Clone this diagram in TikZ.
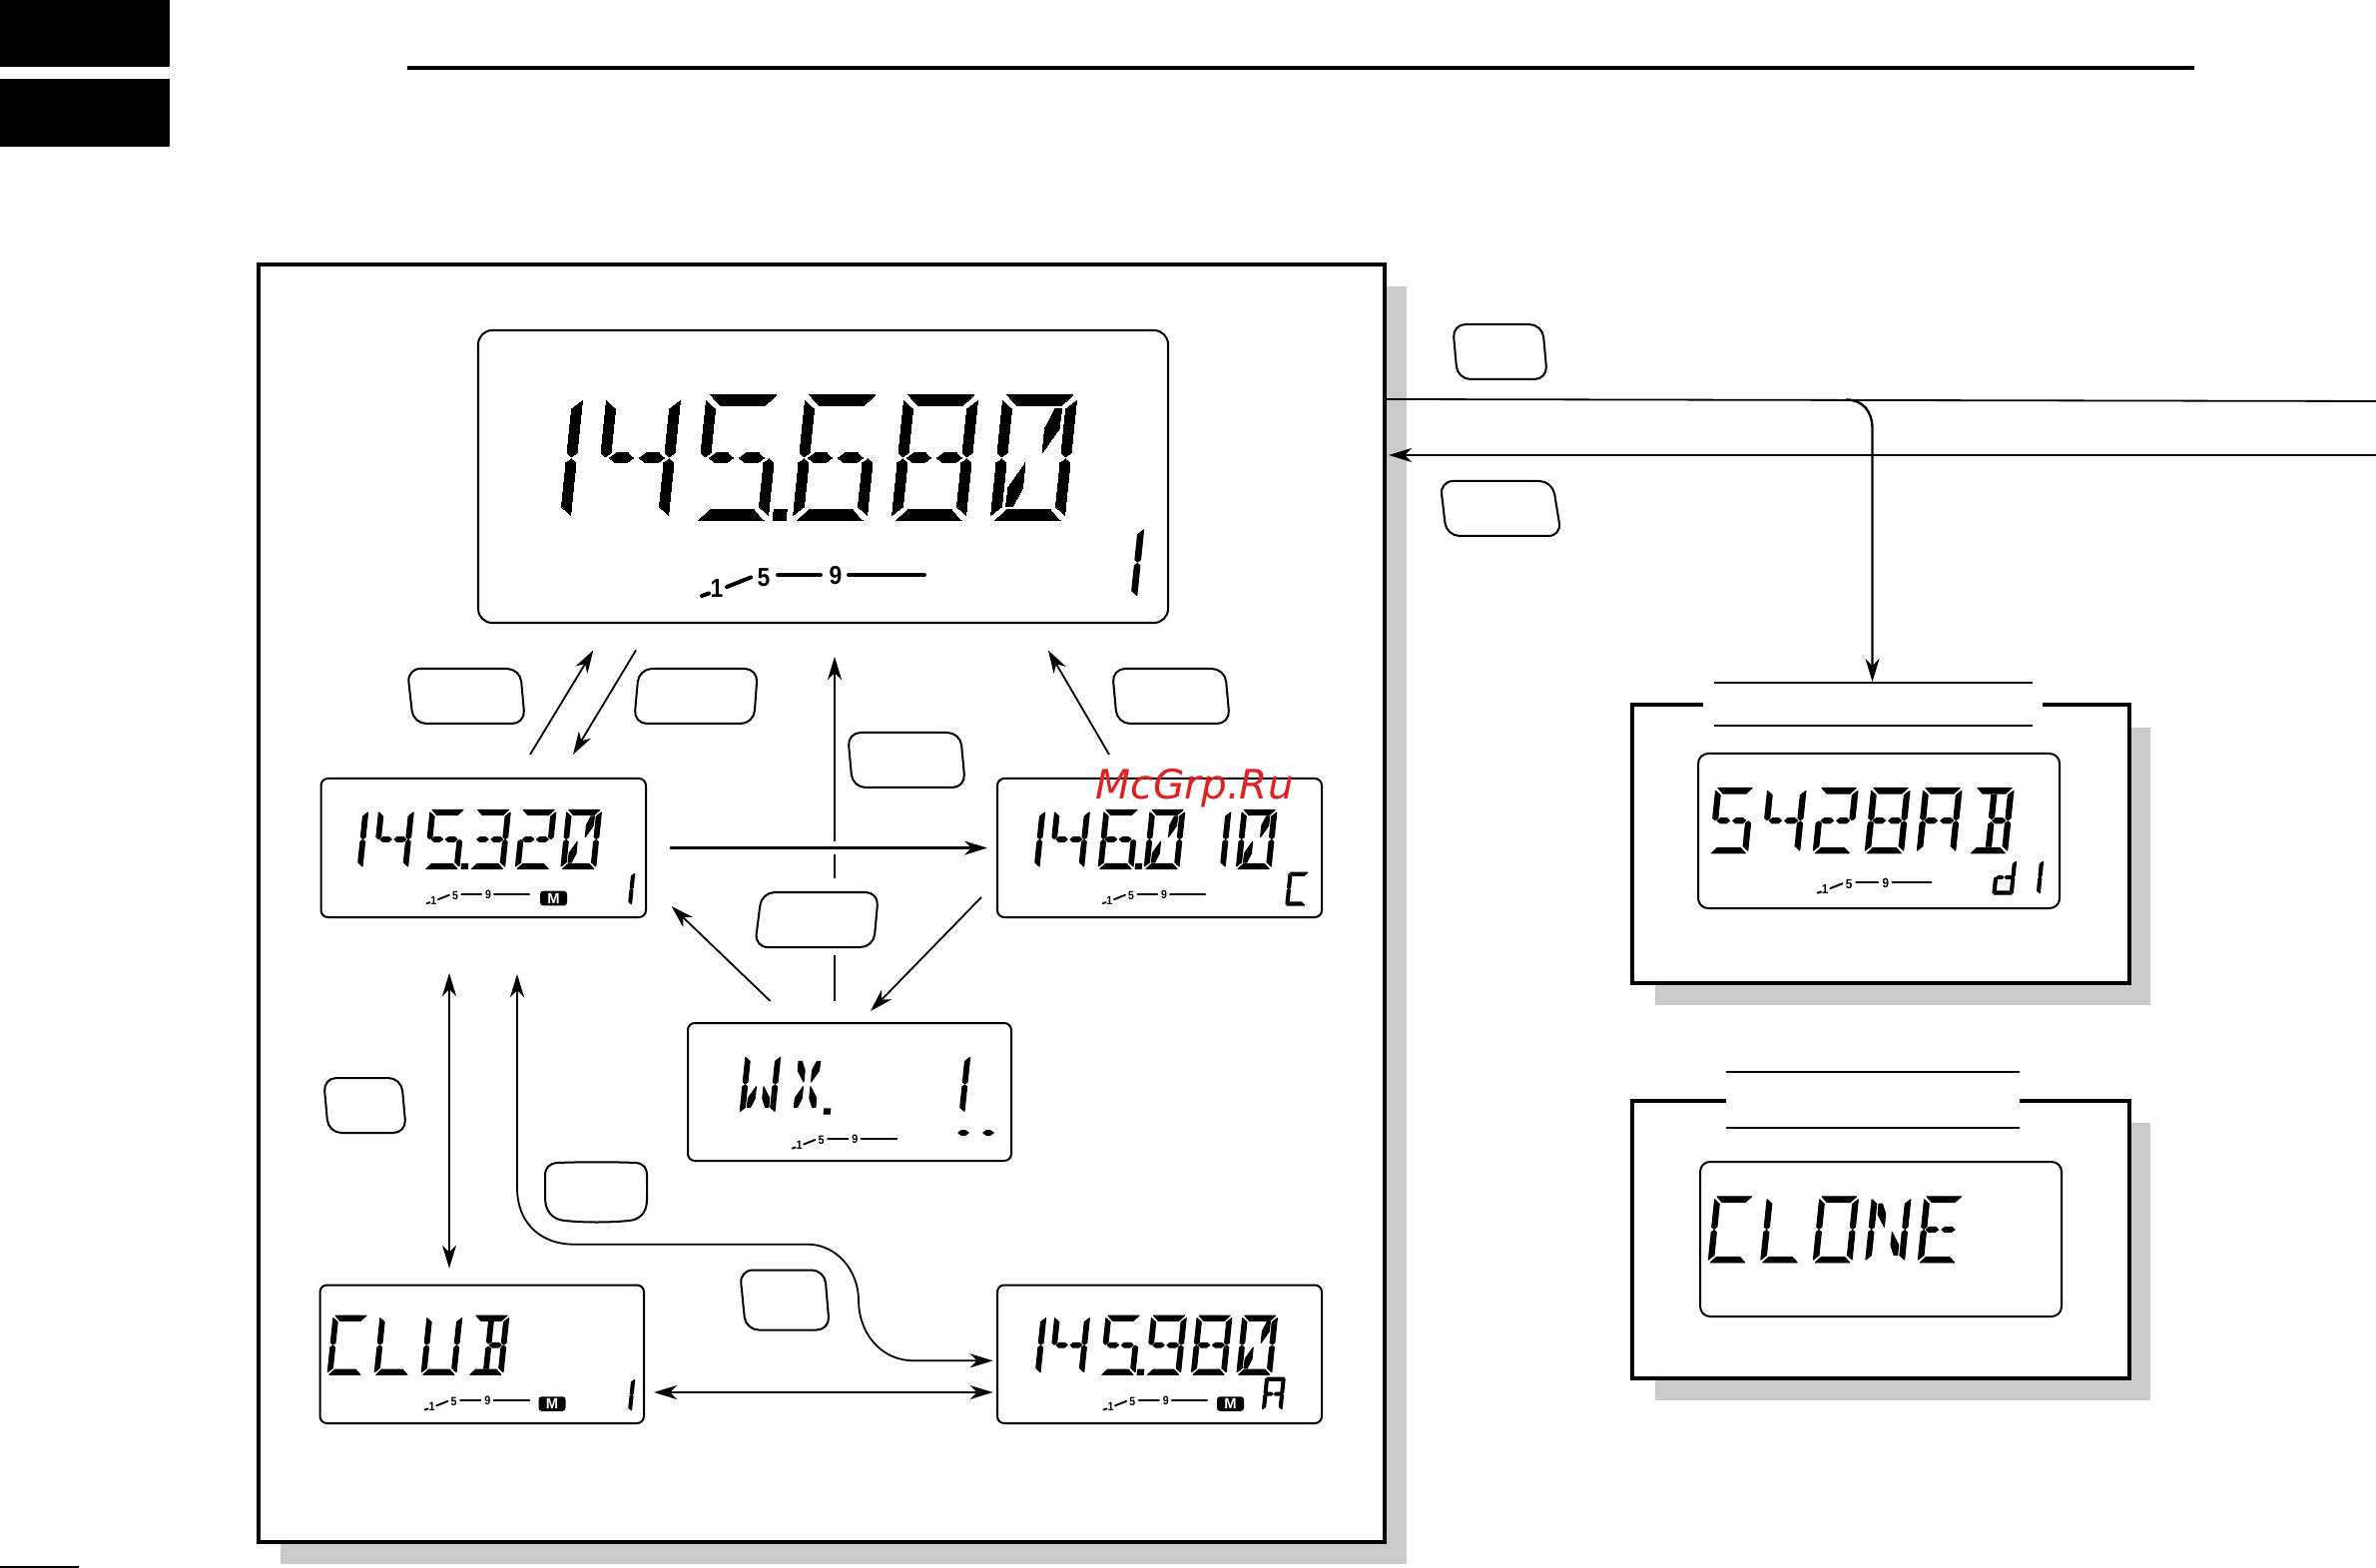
\documentclass[tikz,border=0pt]{standalone}
\usepackage{fontspec}
\setmainfont{Liberation Sans}
\newfontfamily\wmfont{DejaVu Sans}
\usetikzlibrary{arrows.meta}
\definecolor{shadowgrey}{HTML}{CBCBCB}
\definecolor{wmred}{HTML}{DE2222}
\tikzset{
  thinline/.style={line width=.018cm},
  thickline/.style={line width=.024cm},
  lcdframe/.style={draw,line width=.02cm,fill=white,inner sep=0,outer sep=0},
  btn/.style={draw,line width=.02cm,fill=white,rounded corners=.13cm},
  heavy/.style={line width=.04cm},
  shade/.style={fill=shadowgrey},
  seg/.style={fill=black,draw=black,line join=round,line width=\lcdstroke},
  metertxt/.style={inner sep=0,transform shape,font=\fontsize{7.4}{8}\selectfont\bfseries,xscale=.88},
  mbadge/.style={fill=black,text=white,rounded corners=.03cm,inner sep=0,minimum width=.27cm,minimum height=.145cm,font=\fontsize{4.2}{4.2}\selectfont\bfseries},
  >={Stealth[length=.23cm,width=.14cm,inset=.07cm]},
}
\newlength\lcdstroke
% LCD segments, in a 74 x 126 cell
\newcommand\lcdsa{\path[seg] (4,126)--(70,126)--(59,115)--(15,115)--cycle;}
\newcommand\lcdsd{\path[seg] (4,0)--(70,0)--(59,11)--(15,11)--cycle;}
\newcommand\lcdsf{\path[seg] (0,120.5)--(10,112)--(10,68)--(5,64)--(0,68)--cycle;}
\newcommand\lcdse{\path[seg] (0,5.5)--(10,14)--(10,58)--(5,62)--(0,58)--cycle;}
\newcommand\lcdsb{\path[seg] (74,120.5)--(64,112)--(64,68)--(69,64)--(74,68)--cycle;}
\newcommand\lcdsc{\path[seg] (74,5.5)--(64,14)--(64,58)--(69,62)--(74,58)--cycle;}
\newcommand\lcdsg{\path[seg] (9,63)--(15,68)--(27,68)--(33,63)--(27,58)--(15,58)--cycle;}
\newcommand\lcdsk{\path[seg] (39,63)--(45,68)--(58,68)--(64,63)--(58,58)--(45,58)--cycle;}
\newcommand\lcdsh{\path[seg] (32,113)--(42,113)--(42,70)--(37,66)--(32,70)--cycle;}
\newcommand\lcdsi{\path[seg] (32,13)--(42,13)--(42,56)--(37,60)--(32,56)--cycle;}
\newcommand\lcdsp{\path[seg] (53,112)--(60,112)--(59.5,92)--(45,68)--(45,93)--cycle;}
\newcommand\lcdsq{\path[seg] (21,14)--(14,14)--(14.5,34)--(29,58)--(29,33)--cycle;}
\newcommand\lcdsr{\path[seg] (21,112)--(14,112)--(14.5,92)--(29,68)--(29,93)--cycle;}
\newcommand\lcdss{\path[seg] (53,14)--(60,14)--(59.5,34)--(45,58)--(45,33)--cycle;}
\newcommand\lcddef[2]{\expandafter\def\csname lcdg@#1\endcsname{#2}}
\lcddef{0}{\lcdsa\lcdsb\lcdsc\lcdsd\lcdse\lcdsf\lcdsp\lcdsq}
\lcddef{1}{\lcdsb\lcdsc}
\lcddef{2}{\lcdsa\lcdsb\lcdsg\lcdsk\lcdse\lcdsd}
\lcddef{3}{\lcdsa\lcdsb\lcdsg\lcdsk\lcdsc\lcdsd}
\lcddef{4}{\lcdsf\lcdsg\lcdsk\lcdsb\lcdsc}
\lcddef{5}{\lcdsa\lcdsf\lcdsg\lcdsk\lcdsc\lcdsd}
\lcddef{6}{\lcdsa\lcdsf\lcdse\lcdsd\lcdsc\lcdsg\lcdsk}
\lcddef{8}{\lcdsa\lcdsb\lcdsc\lcdsd\lcdse\lcdsf\lcdsg\lcdsk}
\lcddef{9}{\lcdsa\lcdsb\lcdsc\lcdsd\lcdsf\lcdsg\lcdsk}
\lcddef{A}{\lcdsa\lcdsb\lcdsc\lcdse\lcdsf\lcdsg\lcdsk}
\lcddef{B}{\lcdsa\lcdsh\lcdsi\lcdsk\lcdsb\lcdsc\lcdsd}
\lcddef{C}{\lcdsa\lcdsf\lcdse\lcdsd}
\lcddef{E}{\lcdsa\lcdsf\lcdse\lcdsd\lcdsg\lcdsk}
\lcddef{L}{\lcdsf\lcdse\lcdsd}
\lcddef{N}{\lcdsf\lcdse\lcdsb\lcdsc\lcdsr\lcdss}
\lcddef{O}{\lcdsa\lcdsb\lcdsc\lcdsd\lcdse\lcdsf}
\lcddef{U}{\lcdsb\lcdsc\lcdsd\lcdse\lcdsf}
\lcddef{W}{\lcdsf\lcdse\lcdsb\lcdsc\lcdsq\lcdss}
\lcddef{X}{\lcdsp\lcdsq\lcdsr\lcdss}
\lcddef{d}{\lcdsb\lcdsc\lcdsd\lcdse\lcdsg\lcdsk}
\newcount\lcdpos
\newcount\lcdadv
\def\lcdparse#1{%
  \ifx#1\relax\else
    \ifx#1.%
      \path[seg] ({\the\lcdpos-\the\lcdadv+79},0) rectangle ++(13,11);%
    \else
      \begin{scope}[shift={(\the\lcdpos,0)}]\csname lcdg@#1\endcsname\end{scope}%
      \advance\lcdpos by \lcdadv
    \fi
    \expandafter\lcdparse
  \fi}
% \lcdtext[pitch]{x}{baseline y}{scale}{string}
\newcommand\lcdtext[5][100]{%
  \pgfmathsetlength\lcdstroke{(1-#4)*.02cm}%
  \begin{scope}[shift={(#2,#3)},x=.01cm,y=.01cm,scale=#4,xslant=.103]%
    \lcdpos=0 \lcdadv=#1\relax
    \lcdparse#5\relax
  \end{scope}}
% \lcdmeter{name}{x}{line y}{scale}
\newcommand\lcdmeter[4]{%
  \begin{scope}[shift={(#2,#3)},scale=#4]%
    \begin{scope}[line width=#4*.04cm,line cap=round]
      \draw (1,21)--(8,18.5);
      \draw (26,12)--(50,2.5);
      \draw (77,0)--(120,0);
      \draw (148,0)--(224,0);
    \end{scope}
    \node[metertxt] (#1-1) at (16,14) {1};
    \node[metertxt] (#1-5) at (63,3) {5};
    \node[metertxt] (#1-9) at (135,1) {9};
  \end{scope}}
% \lcdpanel{name}{x1}{y1}{x2}{y2}{radius}
\newcommand\lcdpanel[6]{%
  \pgfmathsetmacro\lcdw{(#4-#2)*.01}\pgfmathsetmacro\lcdh{(#5-#3)*.01}%
  \node[lcdframe,rounded corners=#6,minimum width=\lcdw cm,minimum height=\lcdh cm]
    (#1) at ({(#2+#4)/2},{(#3+#5)/2}) {};}
\begin{document}
\begin{tikzpicture}[x=.01cm,y=-.01cm]
\useasboundingbox (0,0) rectangle (2380,1571);
\fill[white] (0,0) rectangle (2380,1571);
% page furniture
\fill (0,0) rectangle (170,67);
\fill (0,79) rectangle (170,147);
\fill (408,66) rectangle (2198,70);
\fill (0,1569) rectangle (79,1571);
% shadows
\fill[shade] (281,287) rectangle (1409,1567);
\fill[shade] (1658,729) rectangle (2154,1007);
\fill[shade] (1658,1125) rectangle (2154,1403);
% frames
\draw[heavy,fill=white] (259,265) rectangle (1387,1545);
\fill[white] (1635,706) rectangle (2133,985);
\draw[heavy,line join=miter] (1706,706)--(1635,706)--(1635,985)--(2133,985)--(2133,706)--(2046,706);
\fill[white] (1635,1103) rectangle (2133,1381);
\draw[heavy,line join=miter] (1729,1103)--(1635,1103)--(1635,1381)--(2133,1381)--(2133,1103)--(2023,1103);
\draw[line width=.02cm] (1717,684)--(2036,684) (1717,727)--(2036,727);
\draw[line width=.02cm] (1729,1074)--(2023,1074) (1729,1130)--(2023,1130);
% LCD panels
\lcdpanel{main}{479}{331}{1170}{624}{.14cm}
\lcdpanel{mem}{321.5}{780}{647}{919}{.07cm}
\lcdpanel{call}{999}{780}{1324}{919}{.07cm}
\lcdpanel{wx}{689}{1025}{1013}{1163}{.07cm}
\lcdpanel{club}{320.5}{1287.5}{645}{1426}{.07cm}
\lcdpanel{prog}{999}{1287.5}{1324}{1426}{.07cm}
\lcdpanel{baud}{1701}{755}{2063}{910}{.1cm}
\lcdpanel{clone}{1703}{1164}{2065}{1319}{.1cm}
% readouts
\lcdtext[98]{497}{521.7}{1}{14}
\lcdtext[99]{695}{521.7}{1}{5.680}
\lcdtext{1096}{600}{.575}{1}
\lcdmeter{mainm}{702}{576}{1}
\lcdtext[97]{328}{870.6}{.47}{14}
\lcdtext[97]{425}{870.6}{.47}{5.320}
\lcdtext{613}{907}{.26}{1}
\lcdmeter{memm}{427}{895.6}{.46}
\node[mbadge] (memb) at (554.5,900) {M};
\lcdtext[95]{1006}{870.6}{.47}{14}
\lcdtext[98]{1100}{870.6}{.47}{6.010}
\lcdtext{1288}{907}{.26}{C}
\lcdmeter{callm}{1104}{895.6}{.46}
\lcdtext{741}{1116}{.47}{WX.}
\lcdtext{931}{1116}{.47}{1}
\fill (959,1135)--(963,1132)--(967,1132)--(971,1135)--(967,1138)--(963,1138)--cycle;
\fill (984,1135)--(988,1132)--(992,1132)--(996,1135)--(992,1138)--(988,1138)--cycle;
\lcdmeter{wxm}{793}{1140.8}{.47}
\lcdtext{328}{1377.3}{.47}{CLUB}
\lcdtext{613}{1414}{.26}{1}
\lcdmeter{clubm}{425}{1402.7}{.47}
\node[mbadge] (clubb) at (553,1406.5) {M};
\lcdtext[93]{1007}{1377.3}{.47}{14}
\lcdtext[97]{1102}{1377.3}{.47}{5.980}
\lcdtext{1264.5}{1413}{.26}{A}
\lcdmeter{progm}{1105}{1402.7}{.465}
\node[mbadge] (progb) at (1232.5,1406.5) {M};
\lcdtext{1712}{855}{.52}{5428AB}
\lcdtext{1996}{896}{.27}{d1}
\lcdmeter{baudm}{1820}{884}{.51}
\lcdtext{1711}{1265}{.525}{CLONE}
% key outlines
\draw[btn] (408,670)--(521,670)--(526,725)--(414,725)--cycle;
\draw[btn] (640,670)--(759,670)--(755,725)--(635,725)--cycle;
\draw[btn] (1114,670)--(1227,670)--(1232,725)--(1119,725)--cycle;
\draw[btn] (849,734)--(962,734)--(967,789)--(854,789)--cycle;
\draw[btn] (763,894)--(880,894)--(875,949)--(756,949)--cycle;
\draw[btn] (324,1080)--(402,1080)--(407,1135)--(329,1135)--cycle;
\draw[btn,rounded corners=0] (558,1165) .. controls (585,1164) and (610,1164) .. (637,1165) .. controls (645,1166) and (648,1170) .. (648,1178) -- (648,1202) .. controls (648,1216) and (640,1222) .. (630,1223) .. controls (610,1225) and (585,1225) .. (566,1223) .. controls (553,1222) and (546,1213) .. (546,1200) -- (546,1178) .. controls (546,1170) and (550,1166) .. (558,1165) -- cycle;
\draw[btn] (741,1272.5)--(826,1272.5)--(831,1332.5)--(747,1332.5)--cycle;
\draw[btn] (1455,325)--(1545,325)--(1550,380)--(1460,380)--cycle;
\draw[btn] (1442.5,482)--(1555,482)--(1564,537)--(1449,537)--cycle;
% connector ends
\coordinate (a1s) at (531,756);   \coordinate (a1e) at (594.3,651.5);
\coordinate (a2s) at (637,651.5); \coordinate (a2e) at (574,756);
\coordinate (a3a) at (836,1003);  \coordinate (a3b) at (836,957);
\coordinate (a3c) at (836,880);   \coordinate (a3d) at (836,856);
\coordinate (a3f) at (836,843);   \coordinate (a3e) at (836,658);
\coordinate (a4s) at (1111,756);  \coordinate (a4e) at (1050,651.5);
\coordinate (a5s) at (671,849.6); \coordinate (a5e) at (989,849.6);
\coordinate (a6s) at (771.6,1003);\coordinate (a6e) at (672.6,908);
\coordinate (a7s) at (983,899);   \coordinate (a7e) at (872,1013);
\coordinate (a8s) at (450,975);   \coordinate (a8e) at (450,1270.7);
\coordinate (a9s) at (518,976);   \coordinate (a9e) at (994.6,1363.3);
\coordinate (a10s) at (655,1395); \coordinate (a10e) at (994.6,1395);
\coordinate (topl) at (1389,400); \coordinate (topr) at (2380,402);
\coordinate (topb) at (1849,400.5); \coordinate (tope) at (1875.5,683);
\coordinate (retr) at (2380,456); \coordinate (rete) at (1391,456);
% connectors
\draw[thinline,->] (a1s)--(a1e);
\draw[thinline,->] (a2s)--(a2e);
\draw[thinline] (a3a)--(a3b) (a3c)--(a3d);
\draw[thinline,->] (a3f)--(a3e);
\draw[thinline,->] (a4s)--(a4e);
\draw[thickline,->] (a5s)--(a5e);
\draw[thinline,->] (a6s)--(a6e);
\draw[thinline,->] (a7s)--(a7e);
\draw[thinline,<->] (a8s)--(a8e);
\draw[thinline,<->] (a9s)--(518,1190) .. controls (518,1224) and (540,1246.7) .. (575,1246.7) -- (809,1246.7) .. controls (838,1246.7) and (860,1273) .. (860,1303) .. controls (860,1333) and (880,1363.3) .. (916,1363.3) -- (a9e);
\draw[thickline,<->] (a10s)--(a10e);
\draw[thinline] (topl)--(topr);
\draw[thickline,->] (topb) .. controls (1866,400.5) and (1875.5,412) .. (1875.5,430) -- (tope);
\draw[thickline,->] (retr)--(rete);
% watermark
\node[anchor=base west,inner sep=0,text=wmred,font=\wmfont\itshape\fontsize{11.55}{12}\selectfont] (mark) at (1097,800.5) {McGrp.Ru};
\end{tikzpicture}
\end{document}
